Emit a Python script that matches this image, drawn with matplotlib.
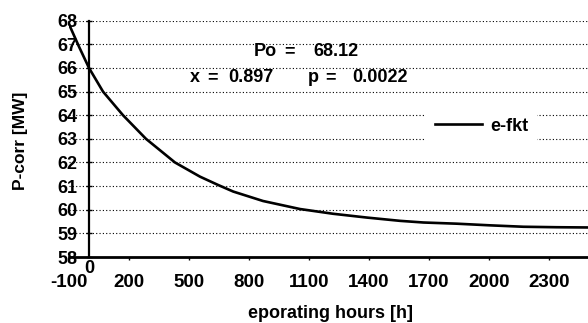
import matplotlib.pyplot as plt

plt.rcParams['font.family'] = ['Liberation Sans', 'DejaVu Sans']
plt.rcParams['font.weight'] = 'bold'
plt.rcParams['axes.unicode_minus'] = False

# values
hours = [-100, -50, 0, 70, 170, 285, 430, 555, 645, 721, 870, 1055, 1220,
         1388, 1555, 1672, 1838, 2005, 2172, 2338, 2495]
p_corr = [67.85, 66.9, 66.0, 65.0, 64.0, 63.0, 62.0, 61.4, 61.05, 60.77, 60.37,
          60.03, 59.83, 59.67, 59.53, 59.46, 59.41, 59.34, 59.28, 59.26, 59.25]
x_ticks = [-100, 200, 500, 800, 1100, 1400, 1700, 2000, 2300]
y_ticks = list(range(58, 69))

fig = plt.figure(figsize=(5.88, 3.23), dpi=100)
ax = fig.add_axes([69 / 588, 1 - 257 / 323, 1 - 69 / 588, (257 - 20.7) / 323])

ax.plot(hours, p_corr, color='black', lw=1.9, label='e-fkt')

ax.set_xlim(-100, 2495)
ax.set_ylim(58, 68)

# dotted grid
for yv in y_ticks[1:]:
    ax.axhline(yv, color='black', lw=0.8, ls=(0, (1, 2)), zorder=0)

ax.spines['top'].set_visible(False)
ax.spines['right'].set_visible(False)
ax.spines['left'].set_position(('data', 0))
ax.spines['left'].set_linewidth(1.6)
ax.spines['bottom'].set_linewidth(2.0)

ax.set_xticks(x_ticks)
ax.set_yticks(y_ticks)
ax.tick_params(axis='x', direction='out', length=2.5, width=1, pad=10, labelsize=13.5)
ax.tick_params(axis='y', direction='inout', length=5, width=1, pad=6, labelsize=13)
for lbl in ax.get_xticklabels() + ax.get_yticklabels():
    lbl.set_fontweight('bold')

ax.annotate('0', xy=(0, 58), xytext=(0, -2), textcoords='offset points',
            ha='center', va='top', fontsize=13, fontweight='bold')

fig.text(21 / 588, 1 - 141 / 323, 'P-corr [MW]', rotation=90, ha='center',
         va='center', fontsize=12.5, fontweight='bold')
fig.text(330 / 588, 1 - 313 / 323, 'eporating hours [h]', ha='center',
         va='center', fontsize=13, fontweight='bold')

# parameter text, placed piece by piece like the original
params = [('Po', 254, 52), ('=', 284, 52), ('68.12', 313, 52),
          ('x', 190, 78), ('=', 207, 78), ('0.897', 228, 78),
          ('p', 308, 78), ('=', 325, 78), ('0.0022', 352, 78)]
for s, px, py in params:
    fig.text(px / 588, 1 - py / 323, s, ha='left', va='center',
             fontsize=13, fontweight='bold')

leg = ax.legend(loc='center left', frameon=True, fontsize=13,
                handlelength=2.6, borderpad=0.5, handletextpad=0.45,
                borderaxespad=0)
leg.get_frame().set_edgecolor('none')
leg.get_frame().set_facecolor('white')
leg.get_frame().set_alpha(1)
leg.set_bbox_to_anchor((426 / 588, 1 - 126 / 323), transform=fig.transFigure)

fig.savefig('out.png', dpi=100)
